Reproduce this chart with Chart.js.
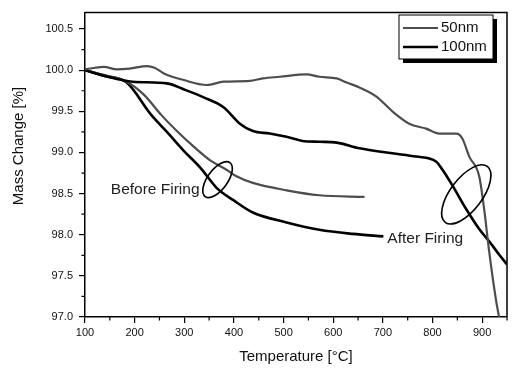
<!DOCTYPE html>
<html>
<head>
<meta charset="utf-8">
<script src="https://cdn.jsdelivr.net/npm/chart.js@4.4.0/dist/chart.umd.min.js"></script>
<style>
  html, body { margin: 0; padding: 0; background: #fff; }
  #wrap { width: 512px; height: 371px; }
</style>
</head>
<body>
<div id="wrap"><canvas id="tgaChart" width="512" height="371"></canvas></div>
<script>
// axis ticks
const xTicks = [100, 200, 300, 400, 500, 600, 700, 800, 900];
const yTicks = [97.0, 97.5, 98.0, 98.5, 99.0, 99.5, 100.0, 100.5];
const xMinor = [150, 250, 350, 450, 550, 650, 750, 850, 950];
const yMinor = [97.25, 97.75, 98.25, 98.75, 99.25, 99.75, 100.25];

// after firing, 50nm
const after50T = [100, 120, 138, 164, 190, 225, 240, 259, 299, 345, 379, 432, 458, 492, 546, 572, 607, 627, 653, 687, 719, 753, 787, 814, 848, 860, 874, 894, 904, 914, 928, 934];
const after50M = [100.01, 100.03, 100.04, 100.01, 100.02, 100.05, 100.03, 99.96, 99.88, 99.82, 99.86, 99.87, 99.90, 99.92, 99.95, 99.92, 99.90, 99.85, 99.79, 99.68, 99.50, 99.35, 99.29, 99.23, 99.23, 99.17, 98.95, 98.71, 98.31, 97.80, 97.20, 97.00];

// after firing, 100nm
const after100T = [100, 140, 196, 265, 302, 339, 379, 412, 438, 472, 506, 538, 572, 607, 653, 719, 767, 807, 820, 840, 868, 894, 914, 934, 950];
const after100M = [100.0, 99.93, 99.86, 99.84, 99.76, 99.67, 99.55, 99.35, 99.26, 99.23, 99.19, 99.14, 99.13, 99.12, 99.05, 98.99, 98.95, 98.89, 98.79, 98.60, 98.31, 98.07, 97.92, 97.76, 97.64];

// before firing, 50nm
const before50T = [100, 140, 184, 219, 253, 285, 319, 353, 385, 405, 438, 506, 572, 663];
const before50M = [100.0, 99.94, 99.86, 99.70, 99.46, 99.26, 99.07, 98.90, 98.79, 98.71, 98.63, 98.54, 98.48, 98.46];

// before firing, 100nm
const before100T = [100, 140, 184, 233, 265, 299, 333, 365, 399, 438, 506, 572, 639, 701];
const before100M = [100.0, 99.93, 99.85, 99.46, 99.25, 99.02, 98.81, 98.57, 98.42, 98.27, 98.15, 98.06, 98.01, 97.98];

// labels and circled regions (data coords)
const notes = [
  { text: 'Before Firing', x: 152, y: 98.55 },
  { text: 'After Firing', x: 709, y: 97.95 }
];
const rings = [
  { x: 367, y: 98.67, a: 21, b: 10, rot: -54 },
  { x: 868, y: 98.49, a: 35, b: 16, rot: -53 }
];

const grey = '#4d4d4d';
const black = '#000000';
const fontFam = '"Liberation Sans", Arial, sans-serif';

function pts(xs, ys) {
  return xs.map(function(x, i) { return { x: x, y: ys[i] }; });
}

const extras = {
  id: 'extras',
  afterDraw: function(chart) {
    const c = chart.ctx;
    const a = chart.chartArea;
    const xs = chart.scales.x;
    const ys = chart.scales.y;
    c.save();

    // top and right frame
    c.strokeStyle = '#000';
    c.lineWidth = 1.5;
    c.beginPath();
    c.moveTo(a.left, a.top);
    c.lineTo(a.right, a.top);
    c.lineTo(a.right, a.bottom);
    c.stroke();

    // minor ticks
    c.lineWidth = 1.2;
    c.beginPath();
    xMinor.forEach(function(v) {
      const px = xs.getPixelForValue(v);
      c.moveTo(px, a.bottom);
      c.lineTo(px, a.bottom + 3.5);
    });
    yMinor.forEach(function(v) {
      const py = ys.getPixelForValue(v);
      c.moveTo(a.left, py);
      c.lineTo(a.left - 3.5, py);
    });
    c.stroke();

    // rings
    c.lineWidth = 1.6;
    rings.forEach(function(r) {
      c.beginPath();
      c.ellipse(xs.getPixelForValue(r.x), ys.getPixelForValue(r.y), r.a, r.b, r.rot * Math.PI / 180, 0, Math.PI * 2);
      c.stroke();
    });

    // notes
    c.fillStyle = '#222';
    c.font = '15.5px ' + fontFam;
    c.textAlign = 'left';
    c.textBaseline = 'middle';
    notes.forEach(function(n) {
      c.fillText(n.text, xs.getPixelForValue(n.x), ys.getPixelForValue(n.y));
    });

    // axis titles
    c.fillStyle = '#111';
    c.font = '15px ' + fontFam;
    c.textAlign = 'center';
    c.fillText('Temperature [\u00B0C]', (a.left + a.right) / 2, 357);
    c.save();
    c.translate(19, 146);
    c.rotate(-Math.PI / 2);
    c.fillText('Mass Change [%]', 0, 0);
    c.restore();

    // legend box with shadow
    const lx = 399, ly = 15, lw = 94, lh = 44;
    c.fillStyle = '#000';
    c.fillRect(lx + 4, ly + 4, lw, lh);
    c.fillStyle = '#fff';
    c.fillRect(lx, ly, lw, lh);
    c.strokeStyle = '#000';
    c.lineWidth = 1;
    c.strokeRect(lx, ly, lw, lh);
    const items = [
      { label: '50nm', color: grey, w: 2.2, y: 28 },
      { label: '100nm', color: black, w: 2.6, y: 47 }
    ];
    c.font = '15px ' + fontFam;
    c.textAlign = 'left';
    items.forEach(function(it) {
      c.strokeStyle = it.color;
      c.lineWidth = it.w;
      c.beginPath();
      c.moveTo(403, it.y);
      c.lineTo(438, it.y);
      c.stroke();
      c.fillStyle = '#111';
      c.fillText(it.label, 441, it.y);
    });

    c.restore();
  }
};

const ctx = document.getElementById('tgaChart').getContext('2d');
const tgaChart = new Chart(ctx, {
  type: 'line',
  data: {
    datasets: [
      { label: '50nm', data: pts(after50T, after50M), borderColor: grey, borderWidth: 2.2 },
      { label: '100nm', data: pts(after100T, after100M), borderColor: black, borderWidth: 2.6 },
      { label: '50nm before', data: pts(before50T, before50M), borderColor: grey, borderWidth: 2.2 },
      { label: '100nm before', data: pts(before100T, before100M), borderColor: black, borderWidth: 2.6 }
    ]
  },
  options: {
    responsive: false,
    animation: false,
    events: [],
    elements: {
      point: { radius: 0 },
      line: { tension: 0.3, cubicInterpolationMode: 'monotone', fill: false }
    },
    layout: { padding: { top: 5, right: 5, left: 0, bottom: 0 } },
    plugins: {
      legend: { display: false },
      tooltip: { enabled: false }
    },
    scales: {
      x: {
        type: 'linear',
        min: 100,
        max: 950,
        afterBuildTicks: function(scale) {
          scale.ticks = xTicks.map(function(v) { return { value: v }; });
        },
        afterFit: function(scale) { scale.height = 54; },
        grid: { drawOnChartArea: false, drawTicks: true, tickLength: 6, color: '#000', lineWidth: 1.2 },
        border: { display: true, color: '#000', width: 1.5 },
        ticks: {
          padding: 3,
          color: '#111',
          maxRotation: 0,
          font: { family: fontFam, size: 11 },
          callback: function(v) { return v; }
        }
      },
      y: {
        type: 'linear',
        min: 97.0,
        max: 100.7,
        afterBuildTicks: function(scale) {
          scale.ticks = yTicks.map(function(v) { return { value: v }; });
        },
        afterFit: function(scale) { scale.width = 85; },
        grid: { drawOnChartArea: false, drawTicks: true, tickLength: 6, color: '#000', lineWidth: 1.2 },
        border: { display: true, color: '#000', width: 1.5 },
        ticks: {
          padding: 6,
          color: '#111',
          font: { family: fontFam, size: 11 },
          callback: function(v) { return v.toFixed(1); }
        }
      }
    }
  },
  plugins: [extras]
});
</script>
</body>
</html>
